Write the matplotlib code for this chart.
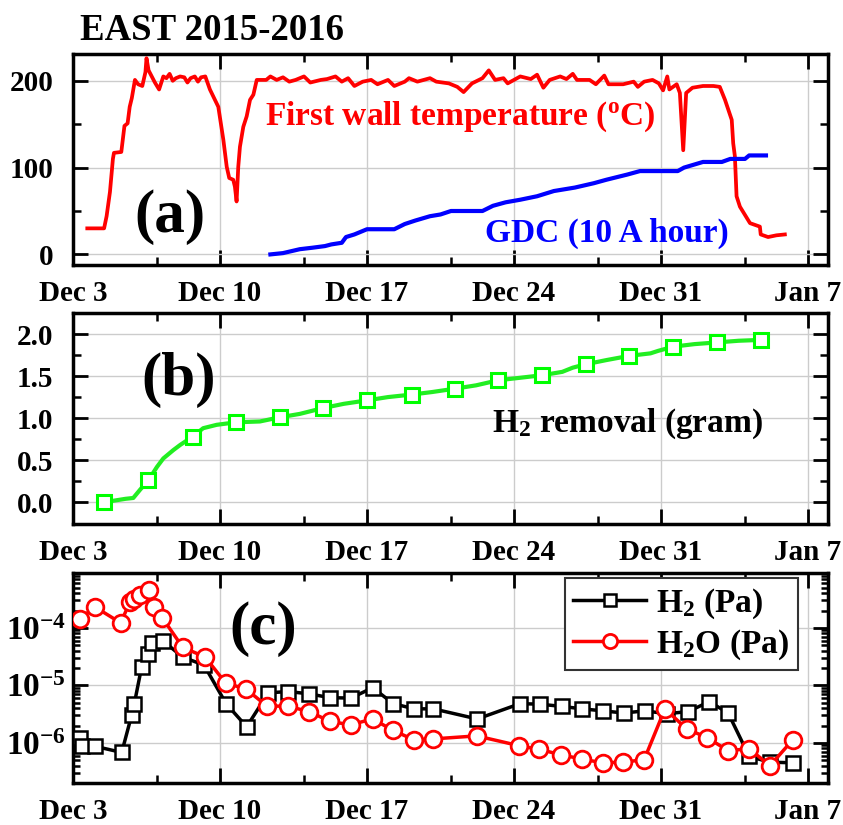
import matplotlib
matplotlib.use("Agg")
import matplotlib.pyplot as plt
from matplotlib.ticker import FixedLocator, NullFormatter, LogLocator

plt.rcParams['font.family'] = ['Liberation Serif', 'DejaVu Serif']
plt.rcParams['font.weight'] = 'bold'
plt.rcParams['mathtext.fontset'] = 'custom'
plt.rcParams['mathtext.rm'] = 'Liberation Serif:bold'
plt.rcParams['mathtext.bf'] = 'Liberation Serif:bold'
plt.rcParams['mathtext.it'] = 'Liberation Serif:bold:italic'

# x values are days after Dec 3 2015
date_ticks = [0, 7, 14, 21, 28, 35]
date_labels = ["Dec 3", "Dec 10", "Dec 17", "Dec 24", "Dec 31", "Jan 7"]
date_minor = [4, 11, 18, 25, 32]

# (a) first wall temperature (C)
temp_days = [0.68, 1.48, 1.6, 1.76, 1.9, 1.95, 2.3, 2.45, 2.6, 2.7, 2.8, 2.95, 3.1, 3.3, 3.45,
             3.5, 3.6, 3.75, 3.9, 4.1, 4.3, 4.45, 4.6, 4.75, 4.9, 5.1, 5.3, 5.45, 5.6, 5.8,
             5.95, 6.1, 6.3, 6.52, 6.68, 6.92, 7.16, 7.32, 7.44, 7.63, 7.71, 7.79, 7.87, 7.95,
             8.11, 8.27, 8.43, 8.59, 8.75, 9.0,
             9.2, 9.4, 9.7, 10.0, 10.3, 10.6, 11.0, 11.3, 11.8, 12.1, 12.5, 12.8, 13.1, 13.4,
             13.8, 14.2, 14.5, 15.0, 15.3, 15.8, 16.0, 16.4, 16.7, 17.0, 17.3, 17.6, 17.9, 18.3,
             18.6, 19.0, 19.5, 19.8, 20.1, 20.5, 20.7, 21.0, 21.3, 21.8, 22.1, 22.4, 22.7, 23.2,
             23.5, 23.8, 24.0, 24.6, 24.9, 25.3, 25.5, 26.2, 26.7, 26.9, 27.2, 27.6, 27.9, 28.1,
             28.3, 28.4, 28.75, 28.9, 29.06, 29.2, 29.5, 30.0, 30.5, 30.8, 31.05, 31.37, 31.44,
             31.52, 31.6, 31.76, 32.24, 32.71, 32.75, 33.1, 33.5, 33.9]
temp_vals = [30, 30, 44, 72, 110, 117, 118, 148, 151, 170, 180, 201, 196, 194, 210,
             226, 212, 205, 198, 190, 205, 203, 208, 200, 203, 205, 204, 198, 203, 205,
             199, 204, 205, 190, 182, 170, 132, 101, 88, 86, 78, 61, 101, 124,
             147, 159, 178, 184, 201, 201,
             201, 205, 201, 204, 199, 201, 205, 198, 201, 202, 205, 199, 203, 194,
             199, 201, 196, 201, 194, 199, 203, 199, 201, 203, 199, 198, 197, 193,
             187, 197, 203, 212, 201, 203, 197, 201, 205, 202, 207, 192, 201, 205,
             202, 208, 201, 201, 196, 206, 196, 196, 199, 193, 199, 201, 197, 189,
             205, 190, 196, 186, 120, 186, 192, 194, 194, 193, 178, 155, 128,
             113, 67, 55, 36, 32, 23, 20, 22, 23]

# (a) GDC (10 A hour)
gdc_days = [9.4, 10.0, 10.8, 11.4, 12.0, 12.3, 12.8, 13.0, 13.4, 14.0, 15.3, 15.8, 16.3, 17.0,
            17.5, 18.0, 19.5, 20.0, 20.6, 21.3, 22.1, 22.9, 23.9, 24.8, 25.4, 26.4, 27.0, 28.8,
            29.1, 30.0, 30.9, 31.3, 32.0, 32.2, 33.0]
gdc_vals = [0, 1.5, 6, 7.7, 9.6, 11.5, 13.4, 20, 23, 29, 29, 35, 39, 44,
            46, 50, 50, 56, 60, 63, 67, 73, 77, 82, 86, 92, 96, 96,
            100, 106.5, 106.5, 110, 110, 114, 114]

# (b) H2 removal (gram)
removal_days = [1.49, 3.59, 5.7, 7.76, 9.86, 11.92, 13.98, 16.13, 18.19, 20.25, 22.35, 24.41,
                26.48, 28.59, 30.65, 32.75]
removal_vals = [0.0, 0.26, 0.78, 0.95, 1.01, 1.12, 1.21, 1.28, 1.35, 1.45, 1.51, 1.64,
                1.74, 1.85, 1.90, 1.93]
removal_line_days = [1.49, 2.0, 2.5, 2.87, 3.2, 3.59, 4.0, 4.3, 4.78, 5.1, 5.7, 6.2, 6.84, 7.76,
                     8.9, 9.86, 10.8, 11.92, 12.9, 13.98, 15.0, 16.13, 17.1, 18.19, 19.2, 20.25,
                     21.3, 22.35, 23.3, 23.8, 24.41, 25.4, 26.48, 27.5, 27.87, 28.59, 29.6,
                     30.65, 31.7, 32.75]
removal_line_vals = [0.0, 0.02, 0.04, 0.05, 0.15, 0.26, 0.42, 0.52, 0.62, 0.68, 0.78, 0.88, 0.92,
                     0.95, 0.96, 1.01, 1.05, 1.12, 1.17, 1.21, 1.25, 1.28, 1.31, 1.35, 1.39, 1.45,
                     1.48, 1.51, 1.55, 1.60, 1.64, 1.69, 1.74, 1.77, 1.80, 1.85, 1.88, 1.90,
                     1.92, 1.93]

# (c) partial pressures (Pa)
h2_days = [0.33, 0.41, 1.05, 2.32, 2.8, 2.92, 3.27, 3.59, 3.75, 4.27, 5.22, 6.24, 7.29, 8.27,
           9.3, 10.25, 11.25, 12.24, 13.24, 14.27, 15.25, 16.25, 17.16, 19.25, 21.29, 22.24,
           23.27, 24.25, 25.22, 26.24, 27.24, 28.27, 29.3, 30.3, 31.2, 32.2, 33.19, 34.27]
h2_vals = [1.2e-6, 8.7e-7, 8.7e-7, 6.8e-7, 3.1e-6, 4.8e-6, 2.1e-5, 3.5e-5, 5.5e-5, 6.0e-5,
           3.1e-5, 2.25e-5, 4.8e-6, 1.9e-6, 7.4e-6, 7.8e-6, 7.1e-6, 6.1e-6, 6.0e-6, 9.1e-6,
           4.8e-6, 3.9e-6, 3.9e-6, 2.6e-6, 4.8e-6, 4.7e-6, 4.3e-6, 3.9e-6, 3.6e-6, 3.3e-6,
           3.6e-6, 3.2e-6, 3.5e-6, 5.2e-6, 3.3e-6, 5.8e-7, 4.6e-7, 4.5e-7]
h2o_days = [0.33, 1.05, 2.27, 2.71, 2.9, 3.19, 3.62, 3.86, 4.25, 5.22, 6.29, 7.27, 8.24, 9.22,
            10.25, 11.25, 12.24, 13.22, 14.27, 15.25, 16.25, 17.16, 19.22, 21.25, 22.2, 23.24,
            24.25, 25.22, 26.21, 27.2, 28.19, 29.22, 30.2, 31.2, 32.2, 33.19, 34.27]
h2o_vals = [1.45e-4, 2.3e-4, 1.22e-4, 2.8e-4, 3.2e-4, 3.7e-4, 4.6e-4, 2.3e-4, 1.5e-4, 4.6e-5,
            3.1e-5, 1.1e-5, 8.6e-6, 4.4e-6, 4.3e-6, 3.5e-6, 2.35e-6, 2.06e-6, 2.6e-6, 1.64e-6,
            1.12e-6, 1.17e-6, 1.32e-6, 8.9e-7, 7.7e-7, 6.2e-7, 5.2e-7, 4.5e-7, 4.6e-7, 5.1e-7,
            3.9e-6, 1.75e-6, 1.23e-6, 7.3e-7, 7.9e-7, 4.0e-7, 1.12e-6]
log_labels = [r'$10^{-6}$', r'$10^{-5}$', r'$10^{-4}$']

fig = plt.figure(figsize=(8.43, 8.25), dpi=100)
ax_a = fig.add_axes([0.0866, 0.679, 0.8955, 0.2557])
ax_b = fig.add_axes([0.0866, 0.3648, 0.8955, 0.2558])
ax_c = fig.add_axes([0.0866, 0.0509, 0.8955, 0.2546])


def style(ax, ypad=14):
    ax.set_xlim(0, 35.95)
    ax.xaxis.set_major_locator(FixedLocator(date_ticks))
    ax.xaxis.set_minor_locator(FixedLocator(date_minor))
    ax.set_xticklabels(date_labels)
    ax.grid(True, which='major', color='#cccccc', linewidth=1.0, zorder=0)
    ax.set_axisbelow(True)
    for s in ax.spines.values():
        s.set_linewidth(2.5)
    ax.tick_params(which='both', direction='in', top=True, right=True, labelsize=21)
    ax.tick_params(which='major', length=11, width=2)
    ax.tick_params(which='minor', length=6, width=1.8)
    ax.tick_params(axis='x', which='major', pad=11)
    ax.tick_params(axis='y', which='major', pad=ypad)


# panel (a)
ax_a.plot(temp_days, temp_vals, color='#ff0000', lw=2.7, zorder=3)
ax_a.plot(gdc_days, gdc_vals, color='#0000ff', lw=3.0, zorder=3)
ax_a.set_ylim(-12, 231)
ax_a.set_yticks([0, 100, 200])
ax_a.yaxis.set_minor_locator(FixedLocator([50, 150]))
style(ax_a)
ax_a.text(9.14, 149, r'First wall temperature ($^{\mathbf{o}}$C)', color='#ff0000',
          fontsize=24, fontweight='bold', va='baseline', ha='left')
ax_a.text(19.6, 15, 'GDC (10 A hour)', color='#0000ff', fontsize=24,
          fontweight='bold', va='baseline', ha='left')
ax_a.text(4.6, 43, '(a)', fontsize=44, fontweight='bold', ha='center', va='center')

# panel (b)
ax_b.plot(removal_line_days, removal_line_vals, color='#22ee22', lw=3.0, zorder=3)
ax_b.plot(removal_days, removal_vals, ls='none', marker='s', ms=10, mfc='white',
          mec='#00ff00', mew=2.2, zorder=4)
ax_b.set_ylim(-0.26, 2.25)
ax_b.set_yticks([0.0, 0.5, 1.0, 1.5, 2.0])
ax_b.set_yticklabels(['0.0', '0.5', '1.0', '1.5', '2.0'])
ax_b.yaxis.set_minor_locator(FixedLocator([0.25, 0.75, 1.25, 1.75]))
style(ax_b)
ax_b.text(19.94, 0.84, r'H$_{\mathbf{2}}$ removal (gram)', fontsize=24,
          fontweight='bold', va='baseline', ha='left')
ax_b.text(5.05, 1.45, '(b)', fontsize=44, fontweight='bold', ha='center', va='center')

# panel (c)
ax_c.set_yscale('log')
ax_c.plot(h2_days, h2_vals, color='black', lw=2.5, marker='s', ms=10, mfc='white',
          mec='black', mew=1.8, label=r'H$_{\mathbf{2}}$ (Pa)', zorder=3)
ax_c.plot(h2o_days, h2o_vals, color='#ff0000', lw=2.5, marker='o', ms=12, mfc='white',
          mec='#ff0000', mew=2.0, label=r'H$_{\mathbf{2}}$O (Pa)', zorder=4)
ax_c.set_ylim(2.0e-7, 9.0e-4)
ax_c.yaxis.set_major_locator(FixedLocator([1e-6, 1e-5, 1e-4]))
ax_c.set_yticklabels(log_labels)
ax_c.yaxis.set_minor_locator(LogLocator(base=10, subs=range(2, 10), numticks=20))
ax_c.yaxis.set_minor_formatter(NullFormatter())
style(ax_c, ypad=5)
ax_c.tick_params(axis='y', which='major', labelsize=24)
ax_c.tick_params(axis='y', which='minor', length=5)
ax_c.text(9.07, 9.5e-5, '(c)', fontsize=44, fontweight='bold', ha='center', va='center')
leg = ax_c.legend(loc='upper right', bbox_to_anchor=(0.960, 0.976), borderaxespad=0,
                  fontsize=24, fancybox=False, framealpha=1, edgecolor='#333333',
                  handlelength=2.2, handletextpad=0.3, borderpad=0.25, labelspacing=0.2,
                  markerscale=0.85)
leg.get_frame().set_linewidth(1.5)

fig.text(0.095, 0.9515, 'EAST 2015-2016', fontsize=26.5, fontweight='bold',
         va='baseline', ha='left')

fig.savefig('out.png', dpi=100)
